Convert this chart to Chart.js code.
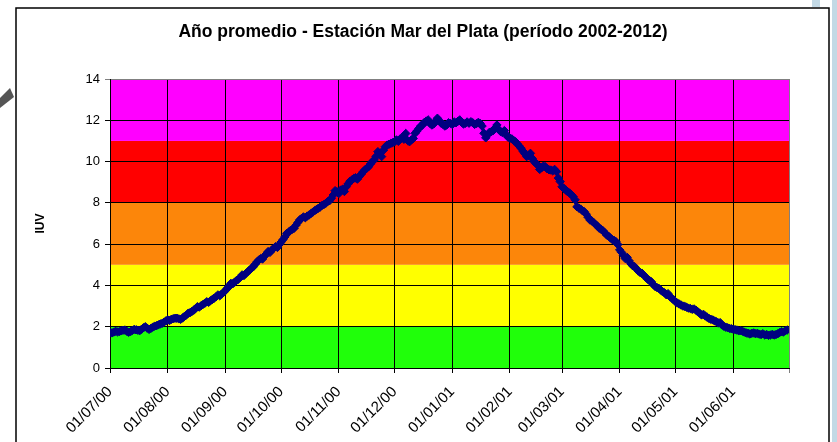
<!DOCTYPE html>
<html>
<head>
<meta charset="utf-8">
<script src="https://cdn.jsdelivr.net/npm/chart.js@4.4.1/dist/chart.umd.min.js"></script>
<style>
  body { margin: 0; background: #fff; }
  #wrap { width: 837px; height: 442px; position: relative; }
</style>
</head>
<body>
<div id="wrap"><canvas id="chart-iuv" width="837" height="442"></canvas></div>
<script>
// daily mean UV index (IUV), one array per month, Jul 2000 .. Jun 2001
const jul = [1.72,1.70,1.74,1.78,1.75,1.76,1.80,1.83,1.84,1.78,1.73,1.76,1.82,1.87,1.85,1.83,1.81,1.88,1.95,2.00,1.93,1.87,1.92,1.98,2.03,2.05,2.09,2.13,2.16,2.22,2.28];
const aug = [2.33,2.30,2.36,2.39,2.41,2.41,2.38,2.36,2.42,2.50,2.56,2.65,2.68,2.74,2.80,2.88,2.97,2.95,3.02,3.08,3.14,3.21,3.18,3.26,3.32,3.38,3.45,3.54,3.50,3.58,3.66];
const sep = [3.75,3.86,3.95,4.10,4.08,4.16,4.24,4.30,4.38,4.51,4.48,4.58,4.66,4.74,4.83,4.90,5.02,5.14,5.23,5.30,5.28,5.42,5.52,5.64,5.60,5.72,5.80,5.88,5.84,5.98];
const oct = [6.10,6.22,6.35,6.52,6.58,6.66,6.72,6.77,6.92,7.05,7.18,7.25,7.32,7.28,7.36,7.41,7.48,7.55,7.62,7.68,7.74,7.80,7.88,7.92,7.98,8.06,8.10,8.22,8.38,8.59,8.54];
const nov = [8.45,8.62,8.66,8.55,8.78,8.92,9.05,9.11,9.18,9.22,9.15,9.27,9.38,9.50,9.60,9.67,9.75,9.88,10.00,10.08,10.25,10.48,10.40,10.24,10.55,10.72,10.80,10.84,10.88,10.92];
const dec = [10.96,11.05,10.98,11.10,11.17,11.08,11.36,11.02,10.96,11.05,11.12,11.37,11.48,11.60,11.72,11.77,11.90,11.96,12.02,11.85,11.77,11.82,11.95,12.10,11.98,11.86,11.80,11.72,11.77,11.88,11.85];
const jan = [11.80,11.92,11.88,11.95,12.02,11.90,11.82,11.85,11.92,11.86,11.93,11.88,11.80,11.84,11.90,11.85,11.72,11.37,11.15,11.30,11.42,11.45,11.50,11.62,11.77,11.55,11.45,11.40,11.50,11.30,11.18];
const feb = [11.13,11.10,11.02,10.96,10.85,10.75,10.64,10.50,10.38,10.24,10.30,10.40,10.15,10.00,9.90,9.83,9.62,9.70,9.78,9.75,9.65,9.60,9.59,9.55,9.62,9.51,9.20,9.03];
const mar = [8.78,8.70,8.62,8.54,8.48,8.40,8.30,8.15,7.81,7.75,7.70,7.62,7.57,7.45,7.30,7.17,7.12,7.05,6.95,6.88,6.77,6.72,6.65,6.55,6.44,6.38,6.30,6.22,6.18,6.12,5.98];
const apr = [5.72,5.60,5.45,5.30,5.36,5.20,5.05,4.95,4.91,4.80,4.70,4.62,4.59,4.50,4.40,4.30,4.24,4.18,4.05,3.95,3.90,3.86,3.78,3.70,3.65,3.55,3.60,3.45,3.38,3.30];
const may = [3.21,3.15,3.10,3.05,3.00,2.98,2.94,2.90,2.88,2.84,2.86,2.80,2.72,2.65,2.57,2.60,2.52,2.46,2.40,2.36,2.33,2.28,2.24,2.18,2.20,2.08,2.02,1.98,1.95,1.92,1.90];
const jun = [1.88,1.86,1.84,1.80,1.81,1.78,1.74,1.70,1.68,1.65,1.68,1.70,1.66,1.68,1.64,1.62,1.66,1.60,1.62,1.58,1.60,1.63,1.60,1.62,1.66,1.72,1.76,1.74,1.80,1.84];

const monthLabels = ['01/07/00','01/08/00','01/09/00','01/10/00','01/11/00','01/12/00','01/01/01','01/02/01','01/03/01','01/04/01','01/05/01','01/06/01'];
const months = [jul, aug, sep, oct, nov, dec, jan, feb, mar, apr, may, jun];

// UV risk bands: limits and fill colours
const bandLimits = [0, 2, 5, 8, 11, 14];
const bandColors = ['#20ff0a', '#ffff00', '#fc860a', '#ff0000', '#ff00ff'];

const TITLE = 'Año promedio - Estación Mar del Plata (período 2002-2012)';
const FONT = "'Liberation Sans', Arial, sans-serif";

// month start positions (day index) for the x ticks
const monthStarts = [0];
months.forEach(m => monthStarts.push(monthStarts[monthStarts.length - 1] + m.length));
const totalDays = monthStarts[monthStarts.length - 1];

const points = months.flat().map((v, i) => ({ x: i, y: v }));

const decorPlugin = {
  id: 'decor',
  beforeDraw(chart) {
    const { ctx, chartArea: a, scales: { y } } = chart;
    ctx.save();
    ctx.fillStyle = '#fff';
    ctx.fillRect(0, 0, chart.width, chart.height);

    // page decorations around the chart frame
    ctx.fillStyle = '#c3d9e5';
    ctx.fillRect(832, 0, 5, chart.height);
    ctx.fillRect(812, 0, 8, 7);
    ctx.fillStyle = '#555';
    ctx.beginPath();
    ctx.moveTo(0, 98); ctx.lineTo(10, 88); ctx.lineTo(14, 97); ctx.lineTo(0, 108);
    ctx.closePath();
    ctx.fill();

    // chart frame
    ctx.strokeStyle = '#000';
    ctx.lineWidth = 1.5;
    ctx.beginPath();
    ctx.moveTo(16, chart.height); ctx.lineTo(16, 8); ctx.lineTo(829, 8); ctx.lineTo(829, chart.height);
    ctx.stroke();

    // title
    ctx.fillStyle = '#000';
    ctx.font = 'bold 17.5px ' + FONT;
    ctx.textAlign = 'center';
    ctx.textBaseline = 'middle';
    ctx.fillText(TITLE, 423, 32);

    // coloured risk bands behind the grid
    bandColors.forEach((c, i) => {
      const top = y.getPixelForValue(bandLimits[i + 1]);
      const bot = y.getPixelForValue(bandLimits[i]);
      ctx.fillStyle = c;
      ctx.fillRect(a.left, top, a.right - a.left, bot - top);
    });
    ctx.restore();
  }
};

new Chart(document.getElementById('chart-iuv'), {
  type: 'line',
  data: {
    datasets: [{
      label: 'IUV',
      data: points,
      borderColor: '#000080',
      backgroundColor: '#000080',
      borderWidth: 3,
      pointStyle: 'rectRot',
      pointRadius: 4.2,
      pointBorderWidth: 1,
      pointBackgroundColor: '#000080',
      pointBorderColor: '#000080',
      tension: 0,
    }],
  },
  options: {
    responsive: false,
    animation: false,
    layout: { padding: { top: 79, right: 48, left: 0, bottom: 0 } },
    plugins: { legend: { display: false }, tooltip: { enabled: false }, title: { display: false } },
    scales: {
      x: {
        type: 'linear', min: 0, max: totalDays,
        afterBuildTicks: s => { s.ticks = monthStarts.map(v => ({ value: v })); },
        afterFit: s => { s.height = 74; },
        grid: { color: ctx => ctx.tick && ctx.tick.value === totalDays ? '#808080' : '#000', lineWidth: 1, tickLength: 5 },
        border: { color: '#000', width: 1 },
        ticks: {
          autoSkip: false, maxRotation: 45, minRotation: 45, padding: 10,
          color: '#000', font: { family: FONT, size: 15 },
          callback: v => monthLabels[monthStarts.indexOf(v)] || '',
        },
      },
      y: {
        min: 0, max: 14,
        afterFit: s => { s.width = 110; },
        grid: { color: ctx => ctx.tick && ctx.tick.value === 14 ? '#808080' : '#000', lineWidth: 1, tickLength: 5 },
        border: { color: '#000', width: 1 },
        ticks: { stepSize: 2, padding: 5, color: '#000', font: { family: FONT, size: 13 } },
        title: { display: true, text: 'IUV', color: '#000', font: { family: FONT, size: 12, weight: 'bold' }, padding: { top: 33, bottom: 0 } },
      },
    },
  },
  plugins: [decorPlugin],
});
</script>
</body>
</html>
